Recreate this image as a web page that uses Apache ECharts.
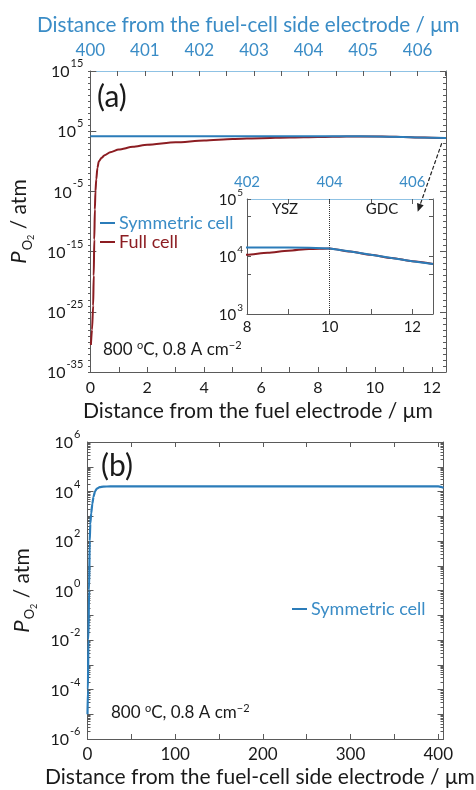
<!DOCTYPE html>
<html><head><meta charset="utf-8">
<script src="https://cdn.jsdelivr.net/npm/echarts@6/dist/echarts.min.js"></script>
<style>html,body{margin:0;padding:0;background:#fff}#c{width:476px;height:790px}</style>
</head><body><div id="c"></div>
<script>
// ---- data (distance in µm, P_O2 in atm) ----
const aSymX  = [0, 2, 4, 6, 8, 9, 9.5, 10, 10.5, 11, 11.5, 12, 12.5];
const aSymP  = [1.45e4, 1.45e4, 1.45e4, 1.44e4, 1.43e4, 1.43e4, 1.42e4, 1.38e4, 1.22e4, 1.07e4, 9.4e3, 8.3e3, 7.4e3];
const aFullX = [0.02, 0.06, 0.10, 0.12, 0.14, 0.16, 0.18, 0.21, 0.25, 0.3, 0.4, 0.5, 0.7, 1.0, 1.5, 2, 3, 4, 5, 6, 7, 8, 8.5, 9, 9.5, 10, 10.5, 11, 11.5, 12, 12.5];
const aFullP = [3e-31, 1e-28, 1e-24, 1e-19, 1e-13, 1e-8, 1e-5, 1e-3, 0.08, 1, 4, 10, 32, 90, 250, 560, 1.4e3, 2.8e3, 5e3, 7e3, 9e3, 1.07e4, 1.16e4, 1.26e4, 1.35e4, 1.38e4, 1.22e4, 1.07e4, 9.4e3, 8.3e3, 7.4e3];
const bSymX  = [0, 0.5, 1, 1.8, 2.5, 3.2, 4.2, 5.5, 6.8, 8.5, 10.7, 14, 18, 26, 100, 200, 300, 400, 403, 406];
const bSymP  = [1e-5, 1e-4, 1e-2, 1, 1e2, 5e2, 1.3e3, 3.2e3, 6e3, 1e4, 1.3e4, 1.5e4, 1.58e4, 1.6e4, 1.6e4, 1.6e4, 1.6e4, 1.6e4, 1.55e4, 1.4e4];

// ---- tick labels ----
const aXLabels     = [0, 2, 4, 6, 8, 10, 12];
const aTopLabels   = [400, 401, 402, 403, 404, 405, 406];
const aYExpLabels  = [-35, -25, -15, -5, 5, 15];
const inXLabels    = [8, 10, 12];
const inTopLabels  = [402, 404, 406];
const inYExpLabels = [3, 4, 5];
const bXLabels     = [0, 100, 200, 300, 400];
const bYExpLabels  = [-6, -4, -2, 0, 2, 4, 6];

const F = 'Lato, "Open Sans", sans-serif';
const AX = '#5a5a5a';
const BLUE = '#2b7cb9', RED = '#8c1d22', BLUE_TXT = '#3a8cc6', TOP_LINE = '#8fc2e4';

const range = (a, b, s) => { const r = []; for (let v = a; v <= b + 1e-9; v += s) r.push(+v.toFixed(4)); return r; };
const logMinor = (e0, e1) => { const r = []; for (let e = e0; e < e1; e++) for (let k = 2; k <= 9; k++) r.push(e + Math.log10(k)); return r; };
const toPairs = (xs, ps) => xs.map((x, i) => [x, Math.log10(ps[i])]);

// font size that makes a text span a given pixel width
const mctx = document.createElement('canvas').getContext('2d');
const fitSize = (text, width) => { mctx.font = '20px ' + F; return Math.min(22, 20 * width / mctx.measureText(text).width); };

const supRich = (fs, ss, up) => ({
  b: {fontSize: fs, fontFamily: F, color: '#1a1a1a', verticalAlign: 'bottom', lineHeight: fs + 2},
  s: {fontSize: ss, fontFamily: F, color: '#1a1a1a', verticalAlign: 'bottom', lineHeight: ss, padding: [0, 0, up, 1]}
});
const powFmt = v => '{b|10}{s|' + Math.round(v) + '}';

function axis(o) {
  return {
    type: 'value', gridIndex: o.grid, position: o.pos, min: o.min, max: o.max,
    show: o.show !== false,
    splitLine: {show: false},
    axisLine: {show: o.line !== false, onZero: false, lineStyle: {color: o.lineColor || AX, width: 1}},
    axisTick: {show: !!o.ticks, inside: true, length: o.tickLen || 5, customValues: o.ticks, lineStyle: {color: AX, width: 1}},
    axisLabel: o.labels ? Object.assign({show: true, customValues: o.labels, fontFamily: F, fontSize: o.fs || 16, color: o.labelColor || '#1a1a1a', margin: o.margin == null ? 7 : o.margin}, o.labelExtra || {}) : {show: false},
    name: o.name, nameLocation: 'middle', nameGap: o.nameGap, nameTextStyle: o.nameStyle, z: o.z
  };
}

const yName = '{p|P}{o|O}{t|2}{a| / atm}';
const yNameStyle = {
  rich: {
    p: {fontSize: 22, fontFamily: F, fontStyle: 'italic', color: '#1a1a1a', verticalAlign: 'bottom', lineHeight: 23, padding: [0, 1, 6, 0]},
    o: {fontSize: 13, fontFamily: F, color: '#1a1a1a', verticalAlign: 'bottom', lineHeight: 13, padding: [0, 0, 2, 0]},
    t: {fontSize: 9, fontFamily: F, color: '#1a1a1a', verticalAlign: 'bottom', lineHeight: 9, padding: [0, 0, 0, 0]},
    a: {fontSize: 21, fontFamily: F, color: '#1a1a1a', verticalAlign: 'bottom', lineHeight: 23, padding: [0, 0, 6, 0]}
  }
};

const gA  = {left: 88, top: 71, width: 358, height: 301};
const gIn = {left: 247, top: 199, width: 186, height: 115};
const gB  = {left: 87.5, top: 442, width: 356, height: 297};

const option = {
  animation: false,
  backgroundColor: '#fff',
  grid: [
    Object.assign({containLabel: false}, gA),
    Object.assign({containLabel: false}, gA),
    Object.assign({containLabel: false, show: true, backgroundColor: '#fff', borderWidth: 0, z: 3}, gIn),
    Object.assign({containLabel: false}, gB),
    Object.assign({containLabel: false}, gB)
  ],
  xAxis: [
    axis({grid: 0, pos: 'bottom', min: 0, max: 12.5, ticks: range(0, 12, 1), labels: aXLabels, fs: 16, margin: 8}),
    axis({grid: 0, pos: 'top', min: 400, max: 406.52, ticks: range(400, 406.5, 0.5), labels: aTopLabels, fs: 17, margin: 12,
      lineColor: TOP_LINE, labelColor: BLUE_TXT}),
    axis({grid: 1, pos: 'bottom', min: 0, max: 12.5, show: false}),
    axis({grid: 2, pos: 'bottom', min: 8, max: 12.5, ticks: range(8, 12, 1), labels: inXLabels, fs: 15, margin: 6, z: 4}),
    axis({grid: 2, pos: 'top', min: 402, max: 406.5, ticks: range(402, 406, 1), labels: inTopLabels, fs: 15, margin: 9,
      lineColor: TOP_LINE, labelColor: BLUE_TXT, z: 4}),
    axis({grid: 3, pos: 'bottom', min: 0, max: 406, ticks: range(0, 400, 50), labels: bXLabels, fs: 17, margin: 7}),
    axis({grid: 3, pos: 'top', min: 0, max: 406, ticks: range(0, 400, 50)}),
    axis({grid: 4, pos: 'bottom', min: 0, max: 406, show: false})
  ],
  yAxis: [
    axis({grid: 0, pos: 'left', min: -35, max: 15, ticks: range(-35, 15, 10), tickLen: 6, labels: aYExpLabels, margin: 7,
      labelExtra: {formatter: powFmt, rich: supRich(16, 11, 11)},
      name: yName, nameGap: 49, nameStyle: yNameStyle}),
    axis({grid: 0, pos: 'right', min: -35, max: 15, ticks: range(-35, 15, 10), tickLen: 6}),
    axis({grid: 1, pos: 'left', min: -35, max: 15, ticks: range(-35, 15, 1), tickLen: 3, line: false}),
    axis({grid: 1, pos: 'right', min: -35, max: 15, ticks: range(-35, 15, 1), tickLen: 3, line: false}),
    axis({grid: 2, pos: 'left', min: 3, max: 5, ticks: [3, Math.log10(5e3), 4, Math.log10(5e4), 5], tickLen: 4, labels: inYExpLabels, margin: 4,
      labelExtra: {formatter: powFmt, rich: supRich(15, 10, 10)}, z: 4}),
    axis({grid: 2, pos: 'right', min: 3, max: 5, ticks: [3, Math.log10(5e3), 4, Math.log10(5e4), 5], tickLen: 4, z: 4}),
    axis({grid: 3, pos: 'left', min: -6, max: 6, ticks: range(-6, 6, 1), tickLen: 6, labels: bYExpLabels, margin: 7,
      labelExtra: {formatter: powFmt, rich: supRich(16, 11, 11)},
      name: yName, nameGap: 49, nameStyle: yNameStyle}),
    axis({grid: 3, pos: 'right', min: -6, max: 6, ticks: range(-6, 6, 1), tickLen: 6}),
    axis({grid: 4, pos: 'left', min: -6, max: 6, ticks: logMinor(-6, 6), tickLen: 3, line: false}),
    axis({grid: 4, pos: 'right', min: -6, max: 6, ticks: logMinor(-6, 6), tickLen: 3, line: false})
  ],
  legend: [
    {left: 100, top: 214, orient: 'vertical', padding: 0, itemGap: 1, itemWidth: 15, itemHeight: 2, icon: 'rect',
      textStyle: {fontFamily: F, fontSize: 18, padding: [0, 0, 0, -1]},
      data: [{name: 'Symmetric cell', textStyle: {color: BLUE_TXT}}, {name: 'Full cell', textStyle: {color: RED}}]},
    {left: 292, top: 600, orient: 'vertical', padding: 0, itemWidth: 15, itemHeight: 2, icon: 'rect',
      textStyle: {fontFamily: F, fontSize: 18, padding: [0, 0, 0, -1]},
      data: [{name: 'Symmetric cell', textStyle: {color: BLUE_TXT}}]}
  ],
  series: [
    {name: 'Symmetric cell', type: 'line', xAxisIndex: 0, yAxisIndex: 0, data: toPairs(aSymX, aSymP),
      showSymbol: false, lineStyle: {color: BLUE, width: 2}, itemStyle: {color: BLUE}, z: 3},
    {name: 'Full cell', type: 'line', xAxisIndex: 0, yAxisIndex: 0, data: toPairs(aFullX, aFullP),
      showSymbol: false, smooth: 0.25, smoothMonotone: 'x', lineStyle: {color: RED, width: 2}, itemStyle: {color: RED}, z: 2},
    {name: 'inset full', type: 'line', xAxisIndex: 3, yAxisIndex: 4, data: toPairs(aFullX, aFullP),
      showSymbol: false, smooth: 0.25, smoothMonotone: 'x', lineStyle: {color: RED, width: 2}, itemStyle: {color: RED}, z: 5},
    {name: 'inset sym', type: 'line', xAxisIndex: 3, yAxisIndex: 4, data: toPairs(aSymX, aSymP),
      showSymbol: false, lineStyle: {color: BLUE, width: 2}, itemStyle: {color: BLUE}, z: 6,
      markLine: {silent: true, symbol: 'none', label: {show: false},
        lineStyle: {color: '#333', width: 1, type: 'dotted'}, data: [{xAxis: 10}]}},
    {name: 'Symmetric cell', type: 'line', xAxisIndex: 5, yAxisIndex: 6, data: toPairs(bSymX, bSymP),
      showSymbol: false, smooth: 0.2, smoothMonotone: 'x', lineStyle: {color: BLUE, width: 2.2}, itemStyle: {color: BLUE}, z: 3}
  ]
};

const chart = echarts.init(document.getElementById('c'));
chart.setOption(option);

// ---- annotations ----
const px = (xi, yi, pt) => chart.convertToPixel({xAxisIndex: xi, yAxisIndex: yi}, pt);
const p1 = px(0, 0, [12.35, 3.0]);
const p2 = px(3, 4, [12.13, 4.78]);
const dx = p2[0] - p1[0], dy = p2[1] - p1[1], L = Math.hypot(dx, dy), ux = dx / L, uy = dy / L;
const hl = 8, hw = 3.5;
const base = [p2[0] - ux * hl, p2[1] - uy * hl];
const condRich = {sup: {fontSize: 11, fontFamily: F, fill: '#1a1a1a', verticalAlign: 'bottom', padding: [0, 0, 10, 0]}};
const txt = (x, y, text, fs, extra) => ({type: 'text', x: x, y: y, z: 100,
  style: Object.assign({text: text, fontFamily: F, fontSize: fs, fill: '#1a1a1a', verticalAlign: 'middle', align: 'left'}, extra || {})});

const tTop = 'Distance from the fuel-cell side electrode / μm';
const tA = 'Distance from the fuel electrode / μm';
const tB = 'Distance from the fuel-cell side electrode / μm';

chart.setOption({graphic: [
  {type: 'line', z: 100, shape: {x1: p1[0], y1: p1[1], x2: base[0], y2: base[1]}, style: {stroke: '#222', lineWidth: 1.2, lineDash: [4, 2]}},
  {type: 'polygon', z: 100, shape: {points: [p2, [base[0] - uy * hw, base[1] + ux * hw], [base[0] + uy * hw, base[1] - ux * hw]]}, style: {fill: '#222'}},
  txt(37, 25, tTop, fitSize(tTop, 423), {fill: BLUE_TXT}),
  txt(83, 411, tA, fitSize(tA, 350)),
  txt(45, 777, tB, fitSize(tB, 430)),
  txt(97, 97, '(a)', 30),
  txt(101, 466, '(b)', 30),
  txt(103, 350, '800 {sup|o}C, 0.8 A cm{sup|−2}', 17, {rich: condRich}),
  txt(111, 713, '800 {sup|o}C, 0.8 A cm{sup|−2}', 17, {rich: condRich}),
  txt(285, 209, 'YSZ', 15, {align: 'center'}),
  txt(382, 209, 'GDC', 15, {align: 'center'})
]});
</script></body></html>
